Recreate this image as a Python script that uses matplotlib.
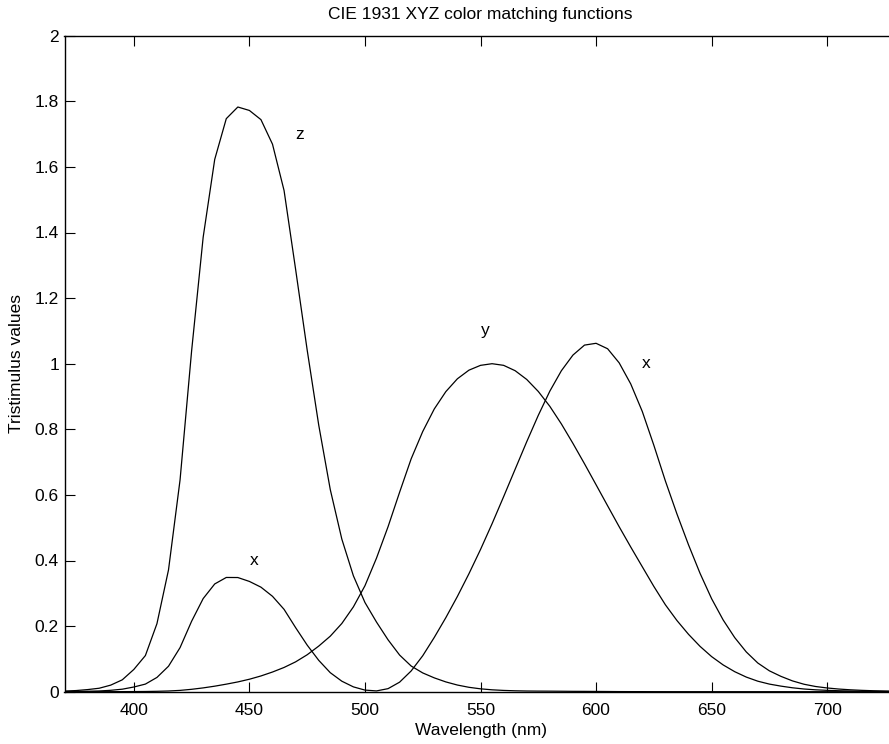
import matplotlib
matplotlib.use("Agg")
import matplotlib.pyplot as plt
import numpy as np

plt.rcParams['font.family'] = ['Liberation Sans', 'DejaVu Sans']

wavelength = list(range(360, 755, 5))
xbar = [0.000130, 0.000232, 0.000415, 0.000742, 0.001368, 0.002236, 0.004243, 0.007650,
        0.014310, 0.023190, 0.043510, 0.077630, 0.134380, 0.214770, 0.283900, 0.328500,
        0.348280, 0.348060, 0.336200, 0.318700, 0.290800, 0.251100, 0.195360, 0.142100,
        0.095640, 0.057950, 0.032010, 0.014700, 0.004900, 0.002400, 0.009300, 0.029100,
        0.063270, 0.109600, 0.165500, 0.225750, 0.290400, 0.359700, 0.433450, 0.512050,
        0.594500, 0.678400, 0.762100, 0.842500, 0.916300, 0.978600, 1.026300, 1.056700,
        1.062200, 1.045600, 1.002600, 0.938400, 0.854450, 0.751400, 0.642400, 0.541900,
        0.447900, 0.360800, 0.283500, 0.218700, 0.164900, 0.121200, 0.087400, 0.063600,
        0.046770, 0.032900, 0.022700, 0.015840, 0.011359, 0.008111, 0.005790, 0.004109,
        0.002899, 0.002049, 0.001440, 0.000999, 0.000690, 0.000476, 0.000332]
ybar = [0.000004, 0.000007, 0.000012, 0.000022, 0.000039, 0.000064, 0.000120, 0.000217,
        0.000396, 0.000640, 0.001210, 0.002180, 0.004000, 0.007300, 0.011600, 0.016840,
        0.023000, 0.029800, 0.038000, 0.048000, 0.060000, 0.073900, 0.090980, 0.112600,
        0.139020, 0.169300, 0.208020, 0.258600, 0.323000, 0.407300, 0.503000, 0.608200,
        0.710000, 0.793200, 0.862000, 0.914850, 0.954000, 0.980300, 0.994950, 1.000000,
        0.995000, 0.978600, 0.952000, 0.915400, 0.870000, 0.816300, 0.757000, 0.694900,
        0.631000, 0.566800, 0.503000, 0.441200, 0.381000, 0.321000, 0.265000, 0.217000,
        0.175000, 0.138200, 0.107000, 0.081600, 0.061000, 0.044580, 0.032000, 0.023200,
        0.017000, 0.011920, 0.008210, 0.005723, 0.004102, 0.002929, 0.002091, 0.001484,
        0.001047, 0.000740, 0.000520, 0.000361, 0.000249, 0.000172, 0.000120]
zbar = [0.000606, 0.001086, 0.001946, 0.003486, 0.006450, 0.010550, 0.020050, 0.036210,
        0.067850, 0.110200, 0.207400, 0.371300, 0.645600, 1.039050, 1.385600, 1.622960,
        1.747060, 1.782600, 1.772110, 1.744100, 1.669200, 1.528100, 1.287640, 1.041900,
        0.812950, 0.616200, 0.465180, 0.353300, 0.272000, 0.212300, 0.158200, 0.111700,
        0.078250, 0.057250, 0.042160, 0.029840, 0.020300, 0.013400, 0.008750, 0.005750,
        0.003900, 0.002750, 0.002100, 0.001800, 0.001650, 0.001400, 0.001100, 0.001000,
        0.000800, 0.000600, 0.000340, 0.000240, 0.000190, 0.000100, 0.000050, 0.000030,
        0.000020, 0.000010, 0.0, 0.0, 0.0, 0.0, 0.0, 0.0,
        0.0, 0.0, 0.0, 0.0, 0.0, 0.0, 0.0, 0.0,
        0.0, 0.0, 0.0, 0.0, 0.0, 0.0, 0.0]

labels = ['z', 'y', 'x', 'x']
label_x = [470, 550, 620, 450]
label_y = [1.7, 1.1, 1.0, 0.4]

xticks = [400, 450, 500, 550, 600, 650, 700]
yticks = [0, 0.2, 0.4, 0.6, 0.8, 1, 1.2, 1.4, 1.6, 1.8, 2]
ytick_labels = ['0', '0.2', '0.4', '0.6', '0.8', '1', '1.2', '1.4', '1.6', '1.8', '2']

W, H = 889, 744
fig = plt.figure(figsize=(W / 100, H / 100), dpi=100)
ax = fig.add_axes([64.5 / W, 52.3 / H, 832 / W, 656 / H])

for series in (xbar, ybar, zbar):
    ax.plot(wavelength, series, color='black', lw=0.9)

fs = 12.5
for t, lx, ly in zip(labels, label_x, label_y):
    ax.text(lx, ly, t, ha='left', va='center', fontsize=fs)

ax.set_xlim(370, 730)
ax.set_ylim(0, 2)
ax.set_xticks(xticks)
ax.set_yticks(yticks)
ax.set_yticklabels(ytick_labels)
ax.tick_params(direction='in', length=7.5, width=0.8, top=True, right=False,
               labelsize=fs)
ax.tick_params(axis='x', pad=8)
ax.tick_params(axis='y', pad=4)
for s in ax.spines.values():
    s.set_linewidth(1.0)

ax.set_xlabel('Wavelength (nm)', fontsize=fs, labelpad=4)
ax.set_ylabel('Tristimulus values', fontsize=fs, labelpad=8)
ax.set_title('CIE 1931 XYZ color matching functions', fontsize=fs, pad=12)

fig.savefig('out.png', dpi=100)
